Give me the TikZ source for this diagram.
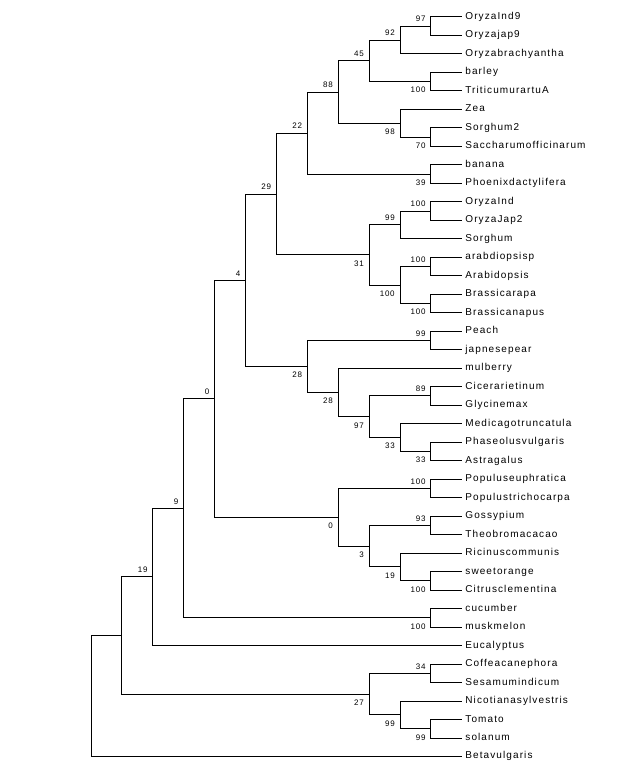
\documentclass[tikz,border=0pt]{standalone}
\usepackage{fontspec}
\usepackage{tikz}
\newfontfamily\taxonface[LetterSpace=11]{Liberation Sans}
\newfontfamily\supportface[LetterSpace=10]{Liberation Sans}
\newcommand{\taxonfont}{\taxonface\fontsize{10pt}{12pt}\selectfont}
\newcommand{\supportfont}{\supportface\fontsize{8pt}{10pt}\selectfont}

\begin{document}
\begin{tikzpicture}[x=30.9pt, y=-18.49pt,
    taxon/.style={anchor=west, inner xsep=3.5pt, inner ysep=0pt, text height=5.2pt, text depth=0pt, font=\taxonfont},
    branch/.style={draw, line width=0.8pt, to path={|- (\tikztotarget)}},
    upval/.style={anchor=south east, inner sep=0pt, xshift=-5pt, yshift=3.8pt, font=\supportfont},
    downval/.style={anchor=north east, inner sep=0pt, xshift=-5pt, yshift=-5.6pt, font=\supportfont}
]
\useasboundingbox (-2.942,0.091) rectangle (17.220,41.628);

% Taxa - one row each
\node[taxon] (OryzaInd9) at (12,1) {OryzaInd9};
\node[taxon] (Oryzajap9) at (12,2) {Oryzajap9};
\node[taxon] (Oryzabrachyantha) at (12,3) {Oryzabrachyantha};
\node[taxon] (barley) at (12,4) {barley};
\node[taxon] (TriticumurartuA) at (12,5) {TriticumurartuA};
\node[taxon] (Zea) at (12,6) {Zea};
\node[taxon] (Sorghum2) at (12,7) {Sorghum2};
\node[taxon] (Saccharumofficinarum) at (12,8) {Saccharumofficinarum};
\node[taxon] (banana) at (12,9) {banana};
\node[taxon] (Phoenixdactylifera) at (12,10) {Phoenixdactylifera};
\node[taxon] (OryzaInd) at (12,11) {OryzaInd};
\node[taxon] (OryzaJap2) at (12,12) {OryzaJap2};
\node[taxon] (Sorghum) at (12,13) {Sorghum};
\node[taxon] (arabdiopsisp) at (12,14) {arabdiopsisp};
\node[taxon] (Arabidopsis) at (12,15) {Arabidopsis};
\node[taxon] (Brassicarapa) at (12,16) {Brassicarapa};
\node[taxon] (Brassicanapus) at (12,17) {Brassicanapus};
\node[taxon] (Peach) at (12,18) {Peach};
\node[taxon] (japnesepear) at (12,19) {japnesepear};
\node[taxon] (mulberry) at (12,20) {mulberry};
\node[taxon] (Cicerarietinum) at (12,21) {Cicerarietinum};
\node[taxon] (Glycinemax) at (12,22) {Glycinemax};
\node[taxon] (Medicagotruncatula) at (12,23) {Medicagotruncatula};
\node[taxon] (Phaseolusvulgaris) at (12,24) {Phaseolusvulgaris};
\node[taxon] (Astragalus) at (12,25) {Astragalus};
\node[taxon] (Populuseuphratica) at (12,26) {Populuseuphratica};
\node[taxon] (Populustrichocarpa) at (12,27) {Populustrichocarpa};
\node[taxon] (Gossypium) at (12,28) {Gossypium};
\node[taxon] (Theobromacacao) at (12,29) {Theobromacacao};
\node[taxon] (Ricinuscommunis) at (12,30) {Ricinuscommunis};
\node[taxon] (sweetorange) at (12,31) {sweetorange};
\node[taxon] (Citrusclementina) at (12,32) {Citrusclementina};
\node[taxon] (cucumber) at (12,33) {cucumber};
\node[taxon] (muskmelon) at (12,34) {muskmelon};
\node[taxon] (Eucalyptus) at (12,35) {Eucalyptus};
\node[taxon] (Coffeacanephora) at (12,36) {Coffeacanephora};
\node[taxon] (Sesamumindicum) at (12,37) {Sesamumindicum};
\node[taxon] (Nicotianasylvestris) at (12,38) {Nicotianasylvestris};
\node[taxon] (Tomato) at (12,39) {Tomato};
\node[taxon] (solanum) at (12,40) {solanum};
\node[taxon] (Betavulgaris) at (12,41) {Betavulgaris};

% Inner nodes - x is 12 minus depth, y is mean of the children
\coordinate (c97a) at (11,1.5);
\coordinate (c92) at (10,2.25);
\coordinate (c100a) at (11,4.5);
\coordinate (c45) at (9,3.375);
\coordinate (c70) at (11,7.5);
\coordinate (c98) at (10,6.75);
\coordinate (c88) at (8,5.0625);
\coordinate (c39) at (11,9.5);
\coordinate (c22) at (7,7.281);
\coordinate (c100b) at (11,11.5);
\coordinate (c99a) at (10,12.25);
\coordinate (c100c) at (11,14.5);
\coordinate (c100d) at (11,16.5);
\coordinate (c100e) at (10,15.5);
\coordinate (c31) at (9,13.875);
\coordinate (c29) at (6,10.578);
\coordinate (c99b) at (11,18.5);
\coordinate (c89) at (11,21.5);
\coordinate (c33b) at (11,24.5);
\coordinate (c33a) at (10,23.75);
\coordinate (c97b) at (9,22.625);
\coordinate (c28b) at (8,21.3125);
\coordinate (c28a) at (7,19.906);
\coordinate (c4) at (5,15.242);
\coordinate (c100f) at (11,26.5);
\coordinate (c93) at (11,28.5);
\coordinate (c100g) at (11,31.5);
\coordinate (c19b) at (10,30.75);
\coordinate (c3) at (9,29.625);
\coordinate (c0b) at (8,28.0625);
\coordinate (c0a) at (4,21.652);
\coordinate (c100h) at (11,33.5);
\coordinate (c9) at (3,27.576);
\coordinate (c19a) at (2,31.288);
\coordinate (c34) at (11,36.5);
\coordinate (c99d) at (11,39.5);
\coordinate (c99c) at (10,38.75);
\coordinate (c27) at (9,37.625);
\coordinate (c1) at (1,34.457);
\coordinate (root) at (0,37.728);

% Branches
\path[branch]
    (root) edge (c1) edge (Betavulgaris)
    (c1) edge (c19a) edge (c27)
    (c19a) edge (c9) edge (Eucalyptus)
    (c9) edge (c0a) edge (c100h)
    (c0a) edge (c4) edge (c0b)
    (c4) edge (c29) edge (c28a)
    % monocots and crucifers
    (c29) edge (c22) edge (c31)
    (c22) edge (c88) edge (c39)
    (c88) edge (c45) edge (c98)
    (c45) edge (c92) edge (c100a)
    (c92) edge (c97a) edge (Oryzabrachyantha)
    (c97a) edge (OryzaInd9) edge (Oryzajap9)
    (c100a) edge (barley) edge (TriticumurartuA)
    (c98) edge (Zea) edge (c70)
    (c70) edge (Sorghum2) edge (Saccharumofficinarum)
    (c39) edge (banana) edge (Phoenixdactylifera)
    (c31) edge (c99a) edge (c100e)
    (c99a) edge (c100b) edge (Sorghum)
    (c100b) edge (OryzaInd) edge (OryzaJap2)
    (c100e) edge (c100c) edge (c100d)
    (c100c) edge (arabdiopsisp) edge (Arabidopsis)
    (c100d) edge (Brassicarapa) edge (Brassicanapus)
    % rosids
    (c28a) edge (c99b) edge (c28b)
    (c99b) edge (Peach) edge (japnesepear)
    (c28b) edge (mulberry) edge (c97b)
    (c97b) edge (c89) edge (c33a)
    (c89) edge (Cicerarietinum) edge (Glycinemax)
    (c33a) edge (Medicagotruncatula) edge (c33b)
    (c33b) edge (Phaseolusvulgaris) edge (Astragalus)
    (c0b) edge (c100f) edge (c3)
    (c100f) edge (Populuseuphratica) edge (Populustrichocarpa)
    (c3) edge (c93) edge (c19b)
    (c93) edge (Gossypium) edge (Theobromacacao)
    (c19b) edge (Ricinuscommunis) edge (c100g)
    (c100g) edge (sweetorange) edge (Citrusclementina)
    (c100h) edge (cucumber) edge (muskmelon)
    % asterids
    (c27) edge (c34) edge (c99c)
    (c34) edge (Coffeacanephora) edge (Sesamumindicum)
    (c99c) edge (Nicotianasylvestris) edge (c99d)
    (c99d) edge (Tomato) edge (solanum);

% Bootstrap values
\node[upval] (v97a) at (c97a) {97};
\node[upval] (v92) at (c92) {92};
\node[downval] (v100a) at (c100a) {100};
\node[upval] (v45) at (c45) {45};
\node[downval] (v70) at (c70) {70};
\node[downval] (v98) at (c98) {98};
\node[upval] (v88) at (c88) {88};
\node[downval] (v39) at (c39) {39};
\node[upval] (v22) at (c22) {22};
\node[upval] (v100b) at (c100b) {100};
\node[upval] (v99a) at (c99a) {99};
\node[upval] (v100c) at (c100c) {100};
\node[downval] (v100d) at (c100d) {100};
\node[downval] (v100e) at (c100e) {100};
\node[downval] (v31) at (c31) {31};
\node[upval] (v29) at (c29) {29};
\node[upval] (v99b) at (c99b) {99};
\node[upval] (v89) at (c89) {89};
\node[downval] (v33b) at (c33b) {33};
\node[downval] (v33a) at (c33a) {33};
\node[downval] (v97b) at (c97b) {97};
\node[downval] (v28b) at (c28b) {28};
\node[downval] (v28a) at (c28a) {28};
\node[upval] (v4) at (c4) {4};
\node[upval] (v100f) at (c100f) {100};
\node[upval] (v93) at (c93) {93};
\node[downval] (v100g) at (c100g) {100};
\node[downval] (v19b) at (c19b) {19};
\node[downval] (v3) at (c3) {3};
\node[downval] (v0b) at (c0b) {0};
\node[upval] (v0a) at (c0a) {0};
\node[downval] (v100h) at (c100h) {100};
\node[upval] (v9) at (c9) {9};
\node[upval] (v19a) at (c19a) {19};
\node[upval] (v34) at (c34) {34};
\node[downval] (v99d) at (c99d) {99};
\node[downval] (v99c) at (c99c) {99};
\node[downval] (v27) at (c27) {27};

\end{tikzpicture}
\end{document}
